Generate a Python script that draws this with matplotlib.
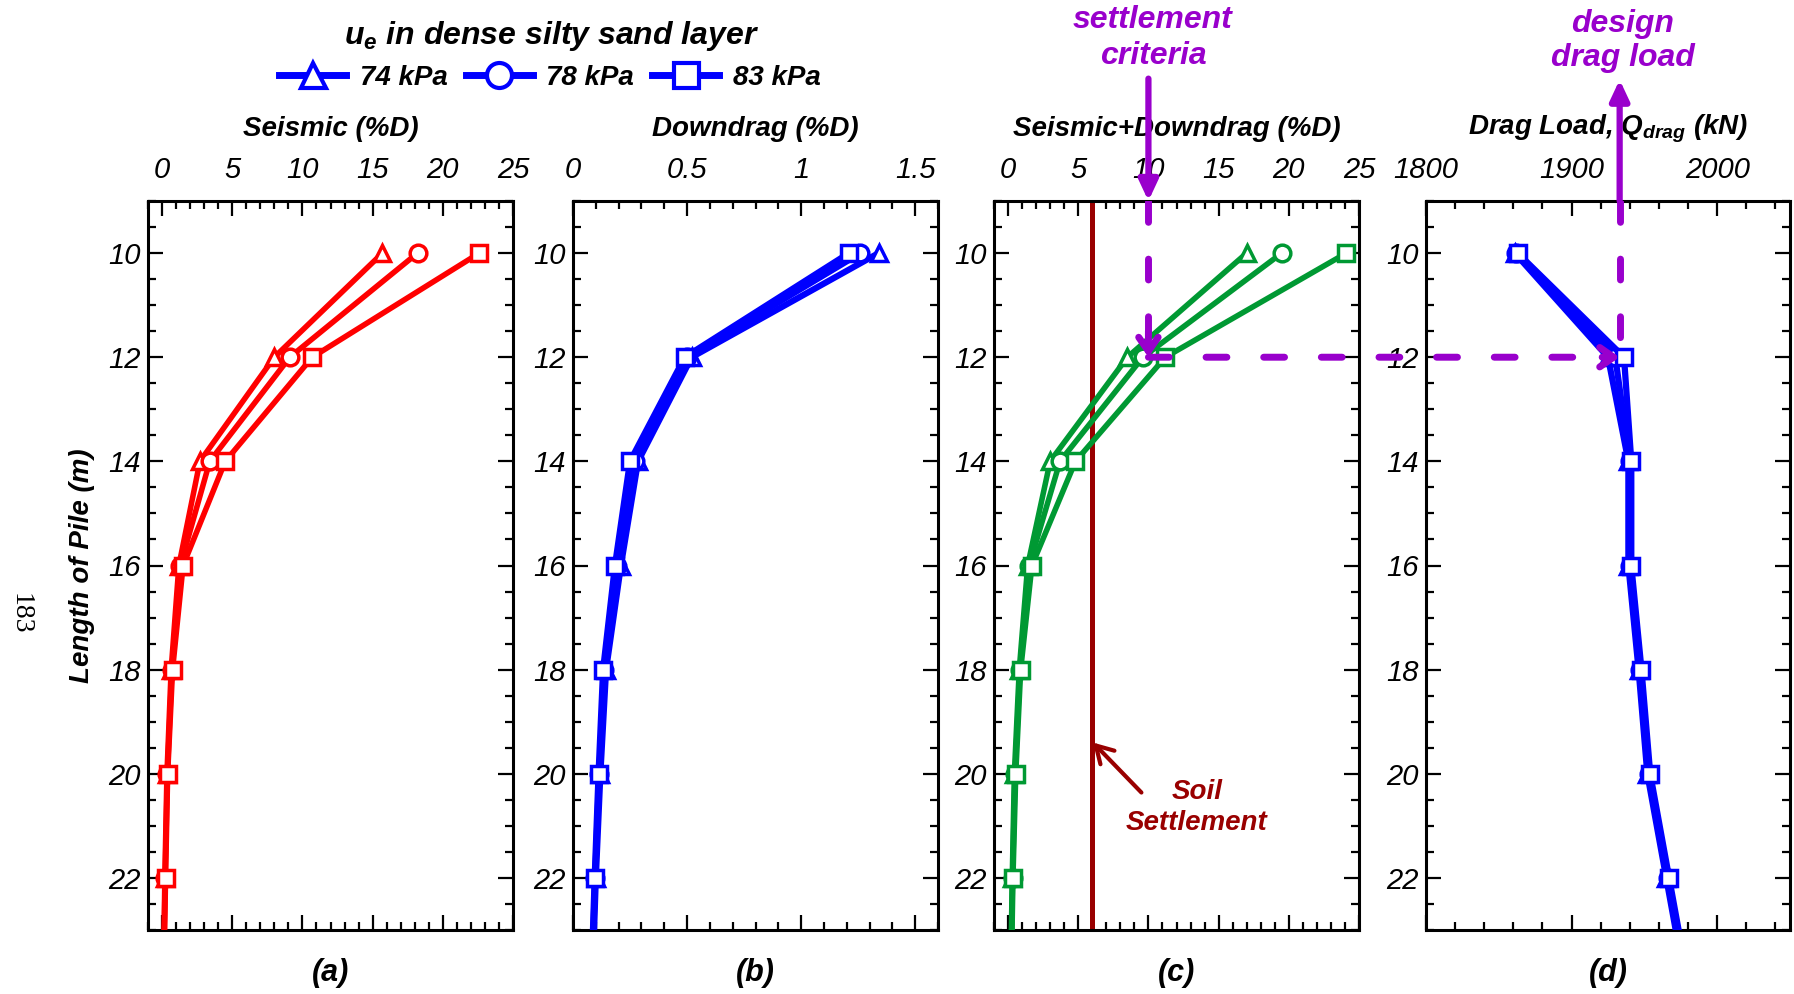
import numpy as np
import matplotlib
matplotlib.use("Agg")
import matplotlib.pyplot as plt
from matplotlib.lines import Line2D
from matplotlib.patches import ConnectionPatch

plt.rcParams["font.family"] = ["Liberation Sans", "DejaVu Sans"]
plt.rcParams["mathtext.fontset"] = "custom"
plt.rcParams["mathtext.it"] = "Liberation Sans:bold:italic"
plt.rcParams["mathtext.rm"] = "Liberation Sans:bold:italic"
plt.rcParams["mathtext.bf"] = "Liberation Sans:bold:italic"

# ---------------------------------------------------------------- data
pile_length = [10, 12, 14, 16, 18, 20, 22, 24]          # m
case_labels = ["74 kPa", "78 kPa", "83 kPa"]
case_markers = ["^", "o", "s"]

# pile head settlement due to shaking (%D)
seismic_74 = [15.7, 8.0, 2.7, 1.2, 0.65, 0.35, 0.20, 0.10]
seismic_78 = [18.2, 9.1, 3.4, 1.3, 0.70, 0.38, 0.22, 0.10]
seismic_83 = [22.6, 10.7, 4.5, 1.5, 0.75, 0.40, 0.25, 0.12]

# settlement due to downdrag (%D)
downdrag_74 = [1.34, 0.52, 0.285, 0.21, 0.145, 0.12, 0.100, 0.085]
downdrag_78 = [1.26, 0.50, 0.270, 0.195, 0.138, 0.115, 0.097, 0.082]
downdrag_83 = [1.21, 0.49, 0.250, 0.184, 0.132, 0.112, 0.095, 0.080]

# total settlement (%D)
total_74 = [17.0, 8.5, 3.0, 1.4, 0.80, 0.45, 0.30, 0.18]
total_78 = [19.5, 9.6, 3.7, 1.5, 0.85, 0.50, 0.32, 0.20]
total_83 = [24.1, 11.2, 4.8, 1.7, 0.90, 0.55, 0.35, 0.22]

# drag load (kN)
drag_74 = [1861, 1925, 1939, 1939, 1946, 1952, 1965, 1978]
drag_78 = [1862, 1930, 1940, 1940, 1947, 1953, 1966, 1979]
drag_83 = [1863, 1936, 1941, 1941, 1948, 1954, 1967, 1980]

soil_settlement = 6.0          # %D
settlement_criteria = 10.0     # %D
design_length = 12.0           # m
design_drag_load = 1933.0      # kN

depth_ticks = [10, 12, 14, 16, 18, 20, 22]
pct_ticks = [0, 5, 10, 15, 20, 25]
pct_ticklabels = ["0", "5", "10", "15", "20", "25"]
dd_ticks = [0, 0.5, 1, 1.5]
dd_ticklabels = ["0", "0.5", "1", "1.5"]
drag_ticks = [1800, 1900, 2000]
drag_ticklabels = ["1800", "1900", "2000"]

# ---------------------------------------------------------------- style
RED = "#FF0000"
BLUE = "#0000FF"
GREEN = "#009933"
DARKRED = "#990000"
PURPLE = "#9900CC"
TICK_FONT = dict(family=["Liberation Sans Narrow", "Liberation Sans"],
                 fontstyle="italic", fontsize=21)
BI = dict(fontweight="bold", fontstyle="italic")

W, H = 1794, 994
fig = plt.figure(figsize=(W / 100, H / 100), dpi=100)


def fx(px):
    return px / W


def fy(py):
    return 1 - py / H


ax_bottom, ax_height = fy(930), (930 - 201) / H
lefts = [148, 573, 994, 1426]
widths = [365, 365, 365, 364]
axes = [fig.add_axes([fx(l), ax_bottom, w / W, ax_height])
        for l, w in zip(lefts, widths)]
ax_a, ax_b, ax_c, ax_d = axes


def style(ax, xlim, ticks, ticklabels, minor_step):
    ax.set_xlim(*xlim)
    ax.set_ylim(23, 9)
    ax.set_xticks(ticks, ticklabels, **TICK_FONT)
    ax.set_xticks(np.arange(xlim[0], xlim[1] + 1e-9, minor_step), minor=True)
    ax.set_yticks(depth_ticks, [str(t) for t in depth_ticks], **TICK_FONT)
    ax.set_yticks(np.arange(9, 23.01, 0.5), minor=True)
    ax.tick_params(which="both", direction="in", top=True, bottom=True,
                   left=True, right=True, labeltop=True, labelbottom=False,
                   width=1.6, color="black")
    ax.tick_params(which="major", length=11)
    ax.tick_params(which="minor", length=6)
    ax.tick_params(axis="x", which="major", pad=12)
    ax.tick_params(axis="y", which="major", pad=5)
    for s in ax.spines.values():
        s.set_linewidth(2.2)


def draw_cases(ax, series, color, lw=4):
    for vals, mk in zip(series, case_markers):
        ax.plot(vals, pile_length, color=color, lw=lw, marker=mk, ms=12,
                mfc="white", mec=color, mew=2.5, zorder=3)


style(ax_a, (-1, 25), pct_ticks, pct_ticklabels, 1)
style(ax_b, (0, 1.6), dd_ticks, dd_ticklabels, 0.1)
style(ax_c, (-1, 25), pct_ticks, pct_ticklabels, 1)
style(ax_d, (1800, 2050), drag_ticks, drag_ticklabels, 20)

draw_cases(ax_a, [seismic_74, seismic_78, seismic_83], RED)
draw_cases(ax_b, [downdrag_74, downdrag_78, downdrag_83], BLUE, lw=4.5)
draw_cases(ax_c, [total_74, total_78, total_83], GREEN)
draw_cases(ax_d, [drag_74, drag_78, drag_83], BLUE, lw=4.5)

titles = ["Seismic (%D)", "Downdrag (%D)", "Seismic+Downdrag (%D)",
          r"Drag Load, Q$_{drag}$ (kN)"]
tags = ["(a)", "(b)", "(c)", "(d)"]
for ax, t, g in zip(axes, titles, tags):
    ax.text(0.5, 1.099, t, transform=ax.transAxes, ha="center", va="center",
            fontsize=20, **BI)
    ax.text(0.5, -0.059, g, transform=ax.transAxes, ha="center",
            va="center", fontsize=22, **BI)

fig.text(fx(82), fy(566), "Length of Pile (m)", rotation=90, ha="center",
         va="center", fontsize=20, **BI)
fig.text(fx(20), fy(614), "183", rotation=-90, ha="center", va="center",
         family="Liberation Serif", fontsize=20)

# soil settlement line in panel (c)
ax_c.axvline(soil_settlement, color=DARKRED, lw=3.6, zorder=2)
ax_c.annotate("", xy=(soil_settlement + 0.05, 19.4), xytext=(9.5, 20.36),
              arrowprops=dict(arrowstyle="->,head_length=0.6,head_width=0.35",
                              color=DARKRED, lw=3, shrinkA=0, shrinkB=0,
                              mutation_scale=20))
fig.text(fx(1197), fy(792), "Soil", color=DARKRED, ha="center", va="center",
         fontsize=20, **BI)
fig.text(fx(1197), fy(823), "Settlement", color=DARKRED, ha="center",
         va="center", fontsize=20, **BI)

# settlement criteria / design drag load guides
DASH = (0, (3, 5.3))
head = "-|>,head_length=0.6,head_width=0.28"
chevron = "->,head_length=0.5,head_width=0.35"
ax_c.annotate("", xy=(settlement_criteria, 9), xytext=(settlement_criteria, 6.65),
              annotation_clip=False,
              arrowprops=dict(arrowstyle=head, color=PURPLE, lw=4.5,
                              shrinkA=0, shrinkB=0, mutation_scale=20),
              zorder=6)
ax_c.plot([settlement_criteria, settlement_criteria], [9, 11.55],
          color=PURPLE, lw=5, ls=DASH, dash_capstyle="round", zorder=6)
ax_c.annotate("", xy=(settlement_criteria, design_length),
              xytext=(settlement_criteria, 11.5),
              arrowprops=dict(arrowstyle=chevron, color=PURPLE, lw=5,
                              shrinkA=0, shrinkB=0, mutation_scale=20,
                              capstyle="round", joinstyle="round"),
              zorder=6)

con = ConnectionPatch(xyA=(settlement_criteria, design_length),
                      coordsA=ax_c.transData,
                      xyB=(design_drag_load - 10, design_length),
                      coordsB=ax_d.transData,
                      color=PURPLE, lw=5, linestyle=DASH, capstyle="round",
                      zorder=6)
fig.add_artist(con)
ax_d.annotate("", xy=(design_drag_load, design_length),
              xytext=(design_drag_load - 12, design_length),
              arrowprops=dict(arrowstyle=chevron, color=PURPLE, lw=5,
                              shrinkA=0, shrinkB=0, mutation_scale=20,
                              capstyle="round", joinstyle="round"),
              zorder=6)
ax_d.plot([design_drag_load, design_drag_load], [9, design_length],
          color=PURPLE, lw=5, ls=DASH, dash_capstyle="round", zorder=6)
ax_d.annotate("", xy=(design_drag_load, 6.67), xytext=(design_drag_load, 9),
              annotation_clip=False,
              arrowprops=dict(arrowstyle=head, color=PURPLE, lw=4.5,
                              shrinkA=0, shrinkB=0, mutation_scale=20),
              zorder=6)

fig.text(fx(1153), fy(20), "settlement", color=PURPLE, ha="center",
         va="center", fontsize=23, **BI)
fig.text(fx(1153), fy(56), "criteria", color=PURPLE, ha="center",
         va="center", fontsize=23, **BI)
fig.text(fx(1623), fy(24), "design", color=PURPLE, ha="center",
         va="center", fontsize=23, **BI)
fig.text(fx(1623), fy(58), "drag load", color=PURPLE, ha="center",
         va="center", fontsize=23, **BI)

# legend
fig.text(fx(552), fy(36), r"$u_e$ in dense silty sand layer", ha="center",
         va="center", fontsize=23, **BI)
handles = [Line2D([], [], color=BLUE, lw=5, marker=mk, ms=18, mfc="white",
                  mec=BLUE, mew=3) for mk in case_markers]
leg = fig.legend(handles, case_labels, loc="center",
                 bbox_to_anchor=(fx(550), fy(78)), ncol=3, frameon=False,
                 handlelength=2.4, handletextpad=0.5, columnspacing=0.65,
                 numpoints=1, prop=dict(size=20, weight="bold", style="italic"))

fig.savefig("out.png", dpi=100)
